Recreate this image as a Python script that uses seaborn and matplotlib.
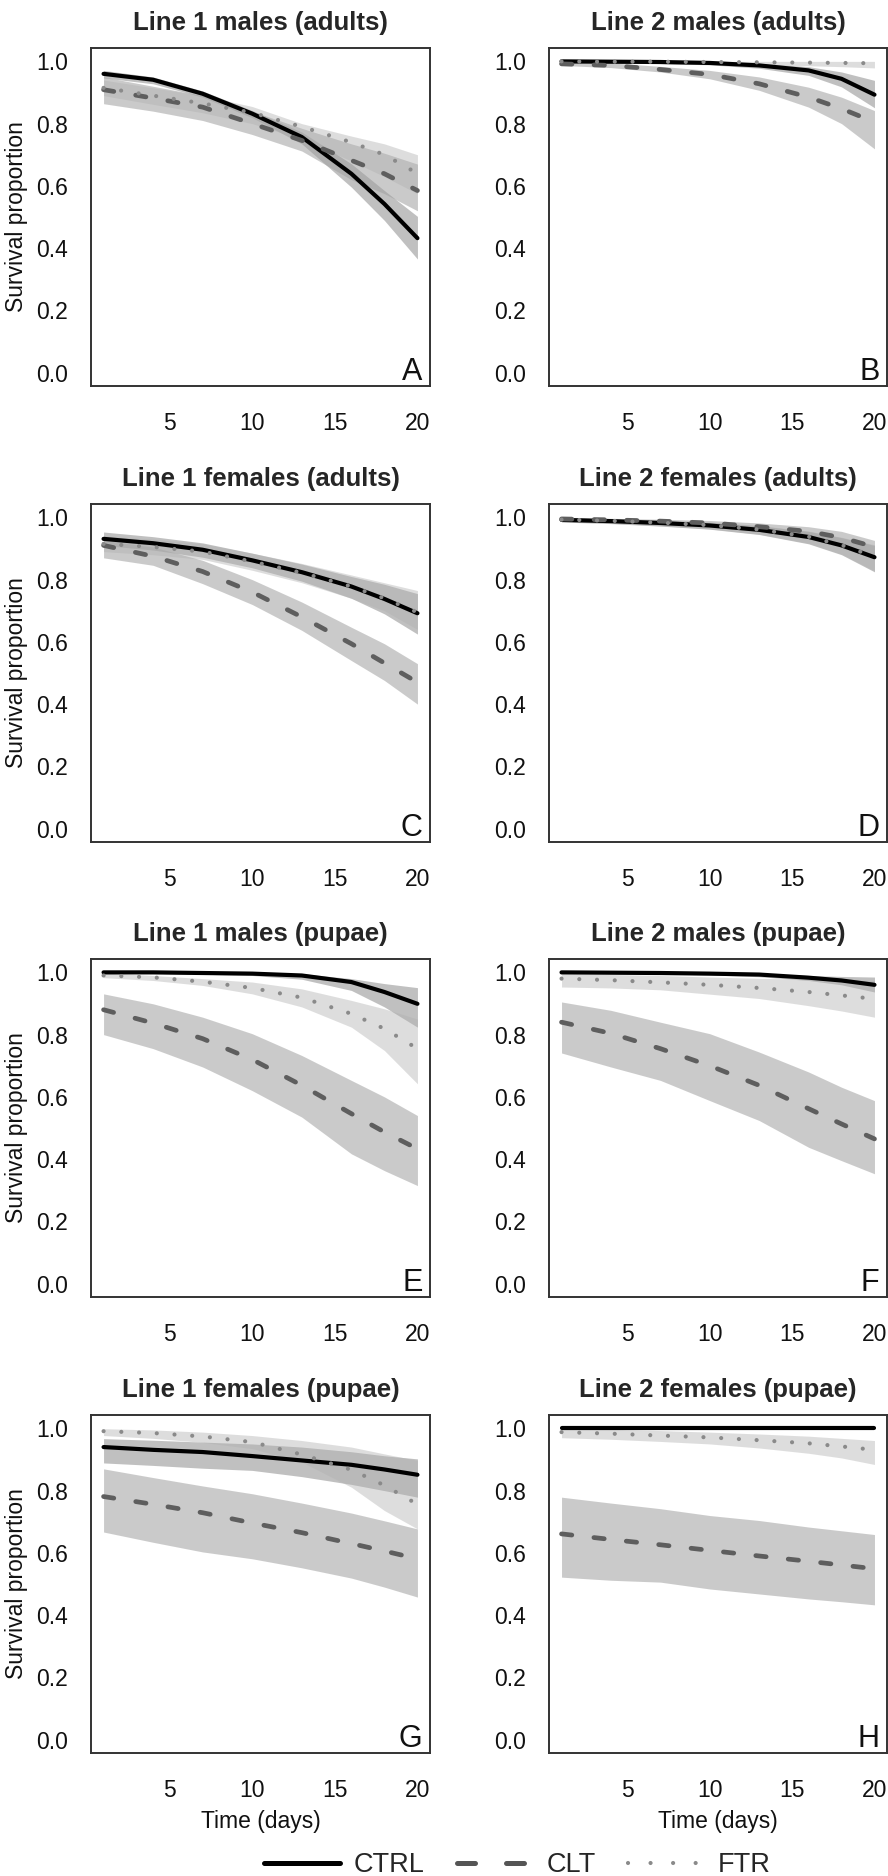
import matplotlib
matplotlib.use("Agg")
import matplotlib.pyplot as plt
from matplotlib.lines import Line2D
import seaborn as sns
import numpy as np

sns.set_theme(style="white")
plt.rcParams['font.family'] = ['Liberation Sans', 'DejaVu Sans']

# ---------------- data ----------------
times = [1, 4, 7, 10, 13, 16, 18, 20]
x_ticks = [5, 10, 15, 20]
y_ticks = [0.0, 0.2, 0.4, 0.6, 0.8, 1.0]
treatments = ["CTRL", "CLT", "FTR"]
titles = ["Line 1 males (adults)", "Line 2 males (adults)",
          "Line 1 females (adults)", "Line 2 females (adults)",
          "Line 1 males (pupae)", "Line 2 males (pupae)",
          "Line 1 females (pupae)", "Line 2 females (pupae)"]
letters = ["A", "B", "C", "D", "E", "F", "G", "H"]

# Panel A
ctrl_A    = [0.960, 0.941, 0.896, 0.832, 0.757, 0.639, 0.542, 0.432]
ctrl_A_lo = [0.947, 0.928, 0.885, 0.819, 0.735, 0.596, 0.489, 0.365]
ctrl_A_hi = [0.971, 0.950, 0.905, 0.842, 0.773, 0.671, 0.585, 0.502]
clt_A     = [0.909, 0.882, 0.853, 0.800, 0.746, 0.682, 0.639, 0.585]
clt_A_lo  = [0.864, 0.840, 0.810, 0.765, 0.712, 0.620, 0.575, 0.520]
clt_A_hi  = [0.950, 0.920, 0.890, 0.840, 0.785, 0.735, 0.705, 0.670]
ftr_A     = [0.915, 0.890, 0.865, 0.835, 0.790, 0.740, 0.700, 0.640]
ftr_A_lo  = [0.890, 0.862, 0.835, 0.800, 0.750, 0.680, 0.630, 0.575]
ftr_A_hi  = [0.940, 0.915, 0.890, 0.855, 0.800, 0.760, 0.735, 0.700]
# Panel B
ctrl_B    = [1.000, 0.999, 0.998, 0.995, 0.987, 0.971, 0.944, 0.893]
ctrl_B_lo = [0.995, 0.995, 0.993, 0.989, 0.978, 0.955, 0.918, 0.851]
ctrl_B_hi = [1.000, 1.000, 1.000, 0.999, 0.994, 0.983, 0.966, 0.939]
clt_B     = [0.992, 0.987, 0.974, 0.958, 0.928, 0.885, 0.848, 0.805]
clt_B_lo  = [0.987, 0.980, 0.966, 0.944, 0.907, 0.853, 0.800, 0.719]
clt_B_hi  = [0.997, 0.995, 0.984, 0.971, 0.950, 0.917, 0.885, 0.842]
ftr_B     = [1.000, 0.999, 0.999, 0.998, 0.997, 0.996, 0.995, 0.994]
ftr_B_lo  = [0.995, 0.994, 0.993, 0.991, 0.989, 0.986, 0.983, 0.979]
ftr_B_hi  = [1.000, 1.000, 1.000, 1.000, 1.000, 1.000, 1.000, 1.000]
# Panel C
ctrl_C    = [0.931, 0.917, 0.896, 0.862, 0.824, 0.778, 0.738, 0.692]
ctrl_C_lo = [0.910, 0.895, 0.872, 0.838, 0.795, 0.740, 0.690, 0.625]
ctrl_C_hi = [0.953, 0.938, 0.918, 0.885, 0.850, 0.810, 0.785, 0.755]
clt_C     = [0.910, 0.875, 0.826, 0.760, 0.680, 0.594, 0.532, 0.470]
clt_C_lo  = [0.870, 0.846, 0.787, 0.720, 0.637, 0.540, 0.476, 0.400]
clt_C_hi  = [0.926, 0.905, 0.862, 0.800, 0.728, 0.647, 0.594, 0.530]
ftr_C     = [0.915, 0.905, 0.890, 0.858, 0.822, 0.778, 0.740, 0.695]
ftr_C_lo  = [0.890, 0.880, 0.865, 0.830, 0.790, 0.740, 0.700, 0.640]
ftr_C_hi  = [0.940, 0.930, 0.915, 0.885, 0.852, 0.815, 0.790, 0.765]
# Panel D
ctrl_D    = [0.992, 0.988, 0.982, 0.974, 0.960, 0.937, 0.910, 0.872]
ctrl_D_lo = [0.985, 0.980, 0.972, 0.962, 0.945, 0.915, 0.880, 0.825]
ctrl_D_hi = [0.998, 0.995, 0.990, 0.984, 0.973, 0.955, 0.935, 0.910]
clt_D     = [0.995, 0.992, 0.988, 0.982, 0.970, 0.955, 0.935, 0.905]
clt_D_lo  = [0.990, 0.985, 0.980, 0.970, 0.955, 0.935, 0.910, 0.870]
clt_D_hi  = [0.999, 0.997, 0.994, 0.990, 0.982, 0.970, 0.955, 0.926]
ftr_D     = [0.993, 0.989, 0.983, 0.975, 0.961, 0.938, 0.911, 0.874]
ftr_D_lo  = [0.986, 0.981, 0.973, 0.963, 0.946, 0.917, 0.882, 0.828]
ftr_D_hi  = [0.998, 0.996, 0.991, 0.985, 0.974, 0.956, 0.936, 0.912]
# Panel E
ctrl_E    = [1.000, 1.000, 0.998, 0.996, 0.990, 0.969, 0.937, 0.899]
ctrl_E_lo = [0.998, 0.997, 0.994, 0.990, 0.978, 0.942, 0.889, 0.824]
ctrl_E_hi = [1.000, 1.000, 1.000, 0.999, 0.996, 0.980, 0.964, 0.951]
clt_E     = [0.880, 0.837, 0.787, 0.720, 0.637, 0.546, 0.487, 0.433]
clt_E_lo  = [0.800, 0.755, 0.696, 0.620, 0.535, 0.417, 0.363, 0.315]
clt_E_hi  = [0.931, 0.899, 0.856, 0.803, 0.733, 0.653, 0.600, 0.540]
ftr_E     = [0.990, 0.984, 0.970, 0.950, 0.919, 0.867, 0.819, 0.755]
ftr_E_lo  = [0.983, 0.974, 0.958, 0.931, 0.889, 0.824, 0.749, 0.642]
ftr_E_hi  = [0.998, 0.990, 0.980, 0.969, 0.947, 0.910, 0.883, 0.850]
# Panel F
ctrl_F    = [1.000, 0.999, 0.998, 0.996, 0.993, 0.983, 0.974, 0.960]
ctrl_F_lo = [0.998, 0.997, 0.995, 0.992, 0.986, 0.974, 0.960, 0.937]
ctrl_F_hi = [1.000, 1.000, 1.000, 0.999, 0.997, 0.990, 0.987, 0.985]
clt_F     = [0.840, 0.804, 0.755, 0.700, 0.637, 0.562, 0.513, 0.465]
clt_F_lo  = [0.741, 0.696, 0.653, 0.588, 0.524, 0.438, 0.395, 0.353]
clt_F_hi  = [0.905, 0.878, 0.840, 0.803, 0.744, 0.680, 0.631, 0.588]
ftr_F     = [0.980, 0.975, 0.968, 0.960, 0.950, 0.937, 0.926, 0.915]
ftr_F_lo  = [0.953, 0.950, 0.944, 0.930, 0.916, 0.893, 0.876, 0.856]
ftr_F_hi  = [0.995, 0.993, 0.990, 0.985, 0.981, 0.978, 0.976, 0.974]
# Panel G
ctrl_G    = [0.940, 0.931, 0.924, 0.911, 0.897, 0.883, 0.868, 0.851]
ctrl_G_lo = [0.889, 0.881, 0.872, 0.865, 0.845, 0.820, 0.800, 0.779]
ctrl_G_hi = [0.967, 0.962, 0.956, 0.950, 0.940, 0.925, 0.912, 0.902]
clt_G     = [0.781, 0.756, 0.729, 0.696, 0.665, 0.630, 0.606, 0.581]
clt_G_lo  = [0.667, 0.634, 0.603, 0.581, 0.552, 0.519, 0.490, 0.458]
clt_G_hi  = [0.870, 0.842, 0.815, 0.790, 0.760, 0.728, 0.703, 0.677]
ftr_G     = [0.991, 0.985, 0.974, 0.956, 0.916, 0.867, 0.817, 0.756]
ftr_G_lo  = [0.977, 0.968, 0.955, 0.935, 0.892, 0.811, 0.736, 0.677]
ftr_G_hi  = [0.999, 0.995, 0.988, 0.977, 0.961, 0.940, 0.918, 0.897]
# Panel H
ctrl_H    = [1.000, 1.000, 1.000, 1.000, 1.000, 1.000, 1.000, 1.000]
ctrl_H_lo = [0.997, 0.997, 0.997, 0.997, 0.997, 0.997, 0.997, 0.997]
ctrl_H_hi = [1.000, 1.000, 1.000, 1.000, 1.000, 1.000, 1.000, 1.000]
clt_H     = [0.661, 0.643, 0.626, 0.608, 0.590, 0.573, 0.561, 0.549]
clt_H_lo  = [0.522, 0.512, 0.506, 0.484, 0.468, 0.452, 0.443, 0.433]
clt_H_hi  = [0.779, 0.760, 0.742, 0.720, 0.704, 0.683, 0.671, 0.659]
ftr_H     = [0.988, 0.983, 0.977, 0.971, 0.962, 0.952, 0.942, 0.931]
ftr_H_lo  = [0.970, 0.965, 0.958, 0.950, 0.937, 0.920, 0.905, 0.884]
ftr_H_hi  = [1.000, 0.997, 0.993, 0.988, 0.982, 0.975, 0.968, 0.961]

panels = [
    ((ctrl_A, ctrl_A_lo, ctrl_A_hi), (clt_A, clt_A_lo, clt_A_hi), (ftr_A, ftr_A_lo, ftr_A_hi)),
    ((ctrl_B, ctrl_B_lo, ctrl_B_hi), (clt_B, clt_B_lo, clt_B_hi), (ftr_B, ftr_B_lo, ftr_B_hi)),
    ((ctrl_C, ctrl_C_lo, ctrl_C_hi), (clt_C, clt_C_lo, clt_C_hi), (ftr_C, ftr_C_lo, ftr_C_hi)),
    ((ctrl_D, ctrl_D_lo, ctrl_D_hi), (clt_D, clt_D_lo, clt_D_hi), (ftr_D, ftr_D_lo, ftr_D_hi)),
    ((ctrl_E, ctrl_E_lo, ctrl_E_hi), (clt_E, clt_E_lo, clt_E_hi), (ftr_E, ftr_E_lo, ftr_E_hi)),
    ((ctrl_F, ctrl_F_lo, ctrl_F_hi), (clt_F, clt_F_lo, clt_F_hi), (ftr_F, ftr_F_lo, ftr_F_hi)),
    ((ctrl_G, ctrl_G_lo, ctrl_G_hi), (clt_G, clt_G_lo, clt_G_hi), (ftr_G, ftr_G_lo, ftr_G_hi)),
    ((ctrl_H, ctrl_H_lo, ctrl_H_hi), (clt_H, clt_H_lo, clt_H_hi), (ftr_H, ftr_H_lo, ftr_H_hi)),
]

# ---------------- styles ----------------
line_colors = {"CTRL": "#000000", "CLT": "#5e5e5e", "FTR": "#8a8a8a"}
line_widths = {"CTRL": 3.0, "CLT": 3.4, "FTR": 3.0}
line_dashes = {"CTRL": None, "CLT": (2.2, 4.7), "FTR": (0.01, 4.25)}
band_colors = {"CTRL": ("#9a9a9a", 0.62), "CLT": ("#a0a0a0", 0.55), "FTR": ("#b0b0b0", 0.42)}
spine_col = "#333333"

W, H = 888, 1876
fig = plt.figure(figsize=(W / 100, H / 100), dpi=100)
col_left = [91, 549]
col_width = [339, 338]
row_top = [48, 504, 959, 1415]
ax_h = 338

for i, (title, letter, series) in enumerate(zip(titles, letters, panels)):
    r, c = divmod(i, 2)
    ax = fig.add_axes([col_left[c] / W, 1 - (row_top[r] + ax_h) / H,
                       col_width[c] / W, ax_h / H])
    # bands
    for name, (m, lo, hi) in zip(treatments, series):
        col, a = band_colors[name]
        ax.fill_between(times, lo, hi, color=col, alpha=a, lw=0, zorder=1)
    # lines
    for name, (m, lo, hi) in zip(treatments, series):
        sns.lineplot(x=times, y=m, ax=ax, color=line_colors[name],
                     linewidth=line_widths[name], estimator=None, zorder=3)
        ln = ax.lines[-1]
        if line_dashes[name] is not None:
            ln.set_dashes(line_dashes[name])
            ln.set_dash_capstyle("round")
        else:
            ln.set_solid_capstyle("round")
    ax.set_xlim(0.24, 20.76)
    ax.set_ylim(-0.043, 1.043)
    ax.set_xticks(x_ticks)
    ax.set_xticklabels([str(t) for t in x_ticks])
    ax.set_yticks(y_ticks)
    ax.set_yticklabels([f"{v:.1f}" for v in y_ticks])
    ax.tick_params(axis="both", direction="out", length=8, width=1.3,
                   color=spine_col, labelsize=16.5, labelcolor="#111111")
    ax.tick_params(axis="y", pad=8.5)
    ax.tick_params(axis="x", pad=11)
    for sp in ax.spines.values():
        sp.set_visible(True)
        sp.set_color(spine_col)
        sp.set_linewidth(1.4)
    ax.set_title(title, fontsize=18.5, fontweight="bold", pad=13)
    ax.text(0.978, 0.018, letter, transform=ax.transAxes, ha="right",
            va="baseline", fontsize=22, color="#111111")
    if c == 0:
        ax.set_ylabel("Survival proportion", fontsize=16.5, color="#111111")
        ax.yaxis.set_label_coords(-0.186, 0.5)
    else:
        ax.set_ylabel("")
    if r == 3:
        ax.set_xlabel("Time (days)", fontsize=16.5, color="#111111")
        ax.xaxis.set_label_coords(0.5, -0.17)
    else:
        ax.set_xlabel("")
    ax.grid(False)

# legend
handles = [
    Line2D([0], [0], color="#000000", lw=3.6, solid_capstyle="round"),
    Line2D([0], [0], color="#555555", lw=3.6, dashes=(3.6, 6.2), dash_capstyle="round"),
    Line2D([0], [0], color="#8a8a8a", lw=3.0, dashes=(0.01, 5.4), dash_capstyle="round"),
]
fig.legend(handles, treatments, loc="center left", bbox_to_anchor=(264 / W, 11 / H),
           ncol=3, frameon=False, fontsize=19.5, handlelength=2.8,
           handletextpad=0.5, columnspacing=1.2, borderpad=0, borderaxespad=0)

fig.savefig("out.png", dpi=100, facecolor="white")
